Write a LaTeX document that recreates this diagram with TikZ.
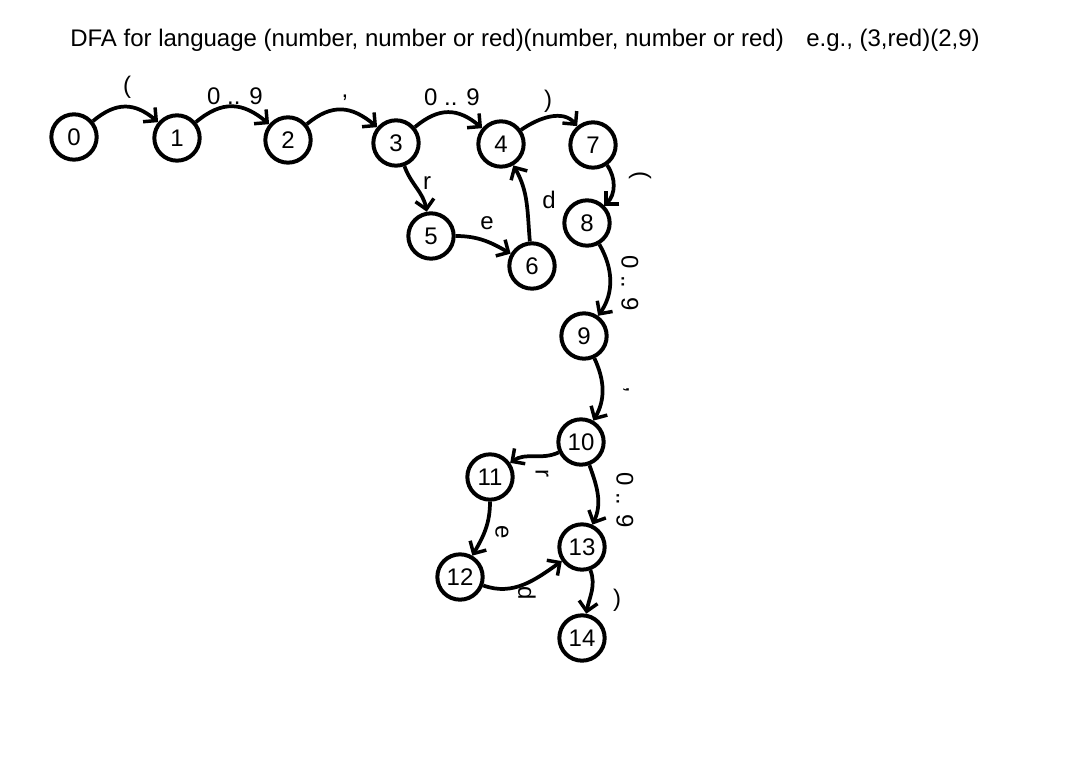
\documentclass[tikz,border=0pt]{standalone}
\usepackage{fontspec}
\setmainfont{Liberation Sans}
\usetikzlibrary{arrows.meta}
\begin{document}
\begin{tikzpicture}[x=0.75pt,y=0.75pt,
 state/.style={circle,draw,line width=3pt,minimum size=34pt,inner sep=0pt,font=\fontsize{18}{20}\selectfont},
 edge/.style={line width=2.8pt,-{Straight Barb[length=7pt,width=14pt,line width=2.6pt]}},
 lbl/.style={font=\fontsize{18}{20}\selectfont,inner sep=0pt},
 rlbl/.style={lbl,rotate=-90}]
\useasboundingbox (0,0) rectangle (1081,-759);
\node[lbl,anchor=base west] (title) at (70,-47) {DFA for language (number, number or red)(number, number or red)};
\node[lbl,anchor=base west] (eg) at (806,-47) {e.g., (3,red)(2,9)};

\node[state] (n0) at (74,-137) {0};
\node[state] (n1) at (177,-138) {1};
\node[state] (n2) at (288,-140) {2};
\node[state] (n3) at (396,-143) {3};
\node[state] (n4) at (501,-144) {4};
\node[state] (n7) at (593,-145) {7};
\node[state] (n5) at (431,-236) {5};
\node[state] (n6) at (532,-266) {6};
\node[state] (n8) at (587,-223) {8};
\node[state] (n9) at (584,-336) {9};
\node[state] (n10) at (581,-442) {10};
\node[state] (n11) at (490,-477) {11};
\node[state] (n12) at (460,-577) {12};
\node[state] (n13) at (582,-547) {13};
\node[state] (n14) at (582,-638) {14};

\draw[edge] (n0) to[out=40,in=140,looseness=1.2] (n1);
\draw[edge] (n1) to[out=40,in=140,looseness=1.2] (n2);
\draw[edge] (n2) to[out=40,in=140,looseness=1.2] (n3);
\draw[edge] (n3) to[out=40,in=140,looseness=1.2] (n4);
\draw[edge] (n4) to[out=35,in=130] (n7);
\draw[edge] (n7) to[out=-55,in=45] (n8);
\draw[edge] (n3) to[out=-70,in=100] (n5);
\draw[edge] (n5) to[out=0,in=150] (n6);
\draw[edge] (n6) to[out=95,in=-60] (n4);
\draw[edge] (n8) to[out=-60,in=55] (n9);
\draw[edge] (n9) to[out=-65,in=60] (n10);
\draw[edge] (n10) to[out=205,in=35] (n11);
\draw[edge] (n10) to[out=-70,in=65] (n13);
\draw[edge] (n11) to[out=-90,in=60] (n12);
\draw[edge] (n12) to[out=-20,in=215] (n13);
\draw[edge] (n13) to[out=-70,in=80] (n14);

\node[lbl] (l01) at (127,-87) {(};
\node[lbl] (l12) at (235,-96) {0 .. 9};
\node[lbl] (l23) at (345,-98) {,};
\node[lbl] (l34) at (452,-97) {0 .. 9};
\node[lbl] (l47) at (548,-101) {)};
\node[lbl] (l35) at (427,-183) {r};
\node[lbl] (l56) at (487,-223) {e};
\node[lbl] (l64) at (549,-200) {d};
\node[rlbl] (l78) at (640,-175) {(};
\node[rlbl] (l89) at (630,-283) {0 .. 9};
\node[rlbl] (l910) at (626,-390) {,};
\node[rlbl] (l1011) at (542,-473) {r};
\node[rlbl] (l1013) at (625,-500) {0 .. 9};
\node[rlbl] (l1112) at (502,-532) {e};
\node[rlbl] (l1213) at (527,-593) {d};
\node[lbl] (l1314) at (617,-600) {)};
\end{tikzpicture}
\end{document}
